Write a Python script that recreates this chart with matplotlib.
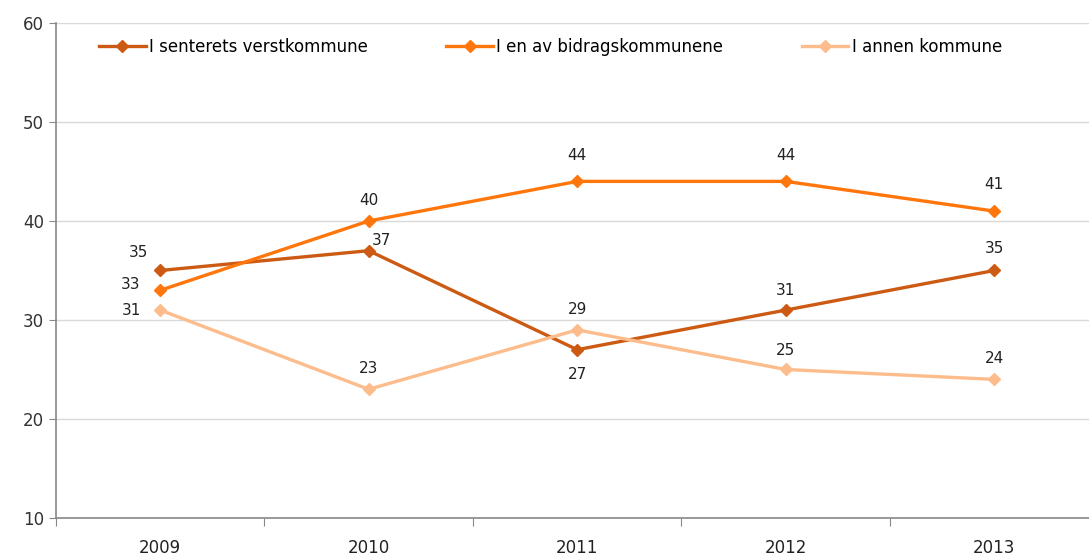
import matplotlib.pyplot as plt

years = ["2009", "2010", "2011", "2012", "2013"]
verstkommune = [35, 37, 27, 31, 35]
bidragskommune = [33, 40, 44, 44, 41]
annen_kommune = [31, 23, 29, 25, 24]

series = [
    ("I senterets verstkommune", verstkommune, "#CC5A12"),
    ("I en av bidragskommunene", bidragskommune, "#FF760D"),
    ("I annen kommune", annen_kommune, "#FCBC8C"),
]

# label placement per series/point: (dx, dy) in points
offsets = [
    [(-16, 13), (9, 7), (0, -18), (0, 14), (0, 16)],
    [(-21, 4), (0, 15), (0, 19), (0, 19), (0, 19)],
    [(-21, 0), (0, 15), (0, 15), (0, 14), (0, 15)],
]

fig = plt.figure(figsize=(10.89, 5.58), dpi=100)
ax = fig.add_axes([0.0514, 0.0717, 0.9573, 0.8871])
x = list(range(len(years)))

for (name, vals, color), offs in zip(series, offsets):
    ax.plot(x, vals, color=color, lw=2.4, marker="D", ms=6.5, label=name)
    for xi, v, (dx, dy) in zip(x, vals, offs):
        ax.annotate(str(v), (xi, v), xytext=(dx, dy), textcoords="offset points",
                    ha="center", va="center", fontsize=11, color="#222222")

ax.set_ylim(10, 60)
ax.set_yticks(range(10, 61, 10))
ax.set_xlim(-0.5, 4.5)
ax.set_xticks([i - 0.5 for i in range(6)], minor=False)
ax.set_xticklabels([])
ax.set_xticks(x, minor=True)
ax.set_xticklabels(years, minor=True, fontsize=12, color="#222222")
ax.tick_params(axis="x", which="minor", length=0, pad=15)
ax.tick_params(axis="x", which="major", length=6, color="#888888")
ax.tick_params(axis="y", length=5, color="#888888", labelsize=12, labelcolor="#333333")
ax.yaxis.grid(True, color="#d9d9d9", lw=1)
ax.set_axisbelow(True)
for s in ["top", "right"]:
    ax.spines[s].set_visible(False)
for s in ["left", "bottom"]:
    ax.spines[s].set_color("#888888")
    ax.spines[s].set_linewidth(1.2)

ax.legend(loc="upper left", bbox_to_anchor=(0.027, 1.0), ncol=3, frameon=False,
          fontsize=12, handlelength=2.8, columnspacing=4.7, handletextpad=0.2)

fig.savefig("out.png", dpi=100)
